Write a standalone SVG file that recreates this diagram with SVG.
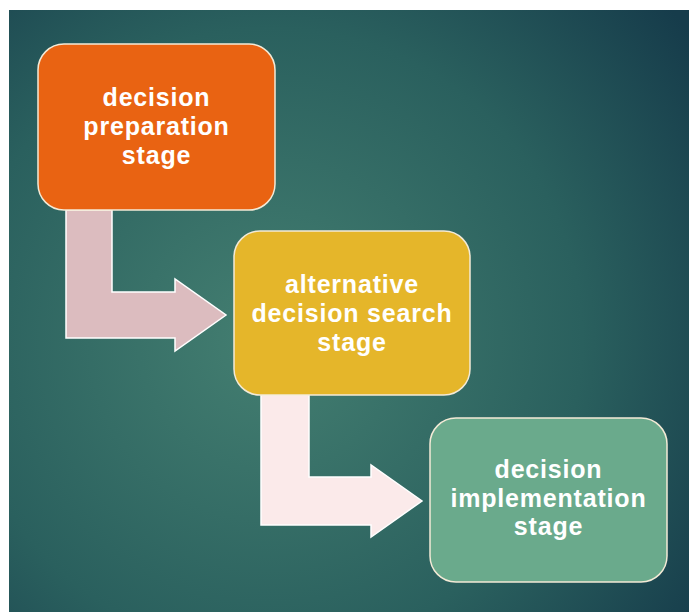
<svg xmlns="http://www.w3.org/2000/svg" width="689" height="612" viewBox="0 0 689 612">
<defs>
<radialGradient id="bg" cx="270" cy="340" r="520" gradientUnits="userSpaceOnUse">
<stop offset="0" stop-color="#447f71"/>
<stop offset="0.6" stop-color="#2a605e"/>
<stop offset="1" stop-color="#163c4b"/>
</radialGradient>
<style>
.node{stroke:#f3ead6;stroke-width:1.5}
.arrow{stroke:#ffffff;stroke-width:1.5;stroke-linejoin:miter}
.lbl{font-family:"Liberation Sans",Arial,sans-serif;font-weight:bold;font-size:25px;letter-spacing:0.8px;fill:#ffffff;text-anchor:middle}
</style>
</defs>
<rect x="0" y="0" width="689" height="612" fill="#ffffff"/>
<rect x="9" y="10" width="680" height="602" fill="url(#bg)"/>
<g id="connectors">
<path class="arrow" fill="#dcbcbf" d="M66,210 L112,210 L112,292 L175,292 L175,279 L226,315 L175,351 L175,338 L66,338 Z"/>
<path class="arrow" fill="#fbeaea" d="M261,395 L309,395 L309,477 L371,477 L371,465 L422,501 L371,537 L371,525 L261,525 Z"/>
</g>
<g id="node-preparation">
<rect class="node" x="38" y="44" width="237" height="166" rx="26" fill="#e96312"/>
<text class="lbl" x="156.5" y="106">decision</text>
<text class="lbl" x="156.5" y="135">preparation</text>
<text class="lbl" x="156.5" y="164">stage</text>
</g>
<g id="node-search">
<rect class="node" x="234" y="231" width="236" height="164" rx="26" fill="#e5b62a"/>
<text class="lbl" x="352" y="293">alternative</text>
<text class="lbl" x="352" y="322">decision search</text>
<text class="lbl" x="352" y="351">stage</text>
</g>
<g id="node-implementation">
<rect class="node" x="430" y="418" width="237" height="164" rx="26" fill="#6aaa8c"/>
<text class="lbl" x="548.5" y="478">decision</text>
<text class="lbl" x="548.5" y="507">implementation</text>
<text class="lbl" x="548.5" y="535">stage</text>
</g>
</svg>
